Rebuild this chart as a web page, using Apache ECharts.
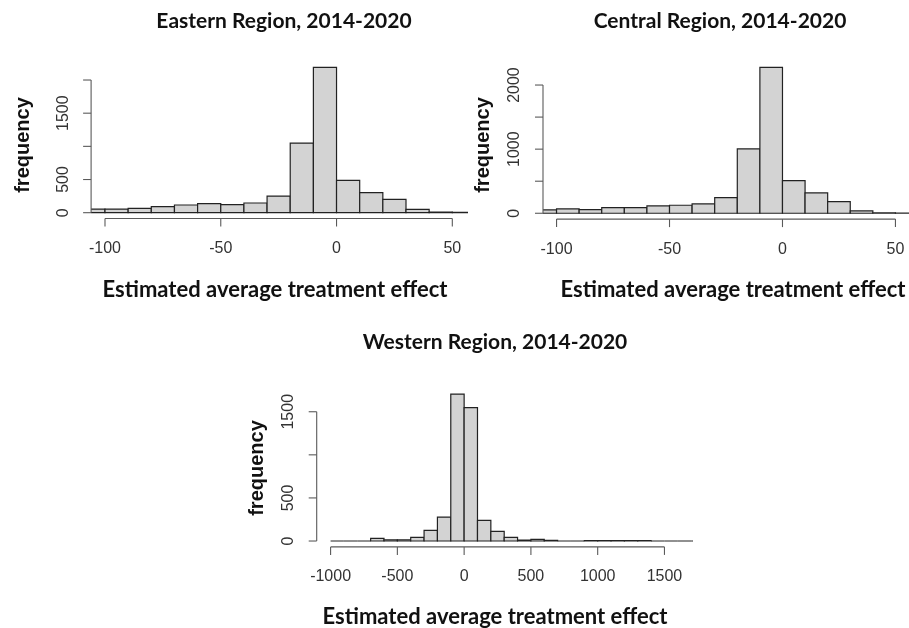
<!DOCTYPE html>
<html>
<head>
<meta charset="utf-8">
<script src="https://cdn.jsdelivr.net/npm/echarts@6/dist/echarts.min.js"></script>
<style>
html,body{margin:0;padding:0;background:#fff;}
#chart{width:909px;height:628px;}
</style>
</head>
<body>
<div id="chart"></div>
<script>
// ---------- data ----------
const eastBreaks = [-110,-100,-90,-80,-70,-60,-50,-40,-30,-20,-10,0,10,20,30,40,50,60];
const eastCounts = [55,55,65,90,116,136,121,146,251,1050,2190,487,301,201,50,10,4];

const centralBreaks = [-110,-100,-90,-80,-70,-60,-50,-40,-30,-20,-10,0,10,20,30,40,50,60];
const centralCounts = [52,68,57,88,88,114,125,145,244,1003,2276,509,317,182,36,8,2];

const westBreaks = [-1000,-900,-800,-700,-600,-500,-400,-300,-200,-100,0,100,200,300,400,500,600,700,800,900,1000,1100,1200,1300,1400,1500,1600,1700,1800];
const westCounts = [0,0,0,31,15,15,43,124,278,1705,1547,240,112,43,12,19,8,0,0,5,5,5,5,5,0,0,0,0];

const eastXTicks = [-100,-50,0,50];
const centralXTicks = [-100,-50,0,50];
const westXTicks = [-1000,-500,0,500,1000,1500];

const eastYTicks = [0,500,1000,1500,2000];
const eastYLabels = [0,500,1500];
const centralYTicks = [0,500,1000,1500,2000];
const centralYLabels = [0,1000,2000];
const westYTicks = [0,500,1000,1500];
const westYLabels = [0,500,1500];

const titles = ['Eastern Region, 2014-2020','Central Region, 2014-2020','Western Region, 2014-2020'];
const xName = 'Estimated average treatment effect';
const yName = 'frequency';

// ---------- helpers ----------
const AXIS_COLOR = '#5a5a5a';
const LABEL_COLOR = '#333';
const TICK_FONT = 'Liberation Sans';
const TITLE_FONT = 'Lato';
const TICK_LEN = 8;

function binData(breaks, counts){
  return counts.map((c,i)=>[breaks[i], breaks[i+1], c]);
}
function histSeries(idx, breaks, counts){
  return {
    type:'custom', xAxisIndex:idx, yAxisIndex:idx, clip:true, silent:true,
    encode:{x:[0,1], y:2},
    data: binData(breaks, counts),
    renderItem:function(params, api){
      const p0 = api.coord([api.value(0), 0]);
      const p1 = api.coord([api.value(1), api.value(2)]);
      return {
        type:'rect',
        shape:{x:p0[0], y:p1[1], width:p1[0]-p0[0], height:p0[1]-p1[1]},
        style:{fill:'#d3d3d3', stroke:'#222', lineWidth:1.2}
      };
    }
  };
}
// R-style axes: lines span only from first to last tick
function frameSeries(idx, xt, yt, xmin, ymin){
  return {
    type:'custom', xAxisIndex:idx, yAxisIndex:idx, clip:false, silent:true,
    encode:{x:[], y:[]},
    data:[[xmin, ymin]],
    renderItem:function(params, api){
      const x0 = api.value(0), y0 = api.value(1);
      const st = {stroke:AXIS_COLOR, lineWidth:1.1};
      const kids = [];
      const a = api.coord([xt[0], y0]), b = api.coord([xt[xt.length-1], y0]);
      kids.push({type:'line', shape:{x1:a[0], y1:a[1], x2:b[0], y2:b[1]}, style:st});
      xt.forEach(v=>{ const p = api.coord([v, y0]);
        kids.push({type:'line', shape:{x1:p[0], y1:p[1], x2:p[0], y2:p[1]+TICK_LEN}, style:st}); });
      const c = api.coord([x0, yt[0]]), d = api.coord([x0, yt[yt.length-1]]);
      kids.push({type:'line', shape:{x1:c[0], y1:c[1], x2:d[0], y2:d[1]}, style:st});
      yt.forEach(v=>{ const p = api.coord([x0, v]);
        kids.push({type:'line', shape:{x1:p[0], y1:p[1], x2:p[0]-TICK_LEN, y2:p[1]}, style:st}); });
      return {type:'group', children:kids};
    }
  };
}
function xAxisDef(idx, min, max, ticks){
  return {
    gridIndex:idx, type:'value', min:min, max:max,
    axisLine:{show:false}, splitLine:{show:false}, axisTick:{show:false},
    axisLabel:{customValues:ticks, margin:22, fontSize:16, color:LABEL_COLOR, fontFamily:TICK_FONT,
      formatter:v=>String(v)}
  };
}
function yAxisDef(idx, counts, labels){
  const m = Math.max.apply(null, counts);
  return {
    gridIndex:idx, type:'value', min:-0.04*m, max:1.04*m,
    axisLine:{show:false}, splitLine:{show:false}, axisTick:{show:false},
    axisLabel:{customValues:labels, rotate:90, margin:20, fontSize:16, color:LABEL_COLOR, fontFamily:TICK_FONT,
      formatter:v=>String(v)}
  };
}
function titleDef(text, x, y, size){
  return {text:text, left:x, top:y, textAlign:'center', padding:0,
    textStyle:{fontFamily:TITLE_FONT, fontWeight:'bold', fontSize:size, color:'#111'}};
}
function yNameDef(x, y){
  return {type:'text', x:x, y:y, rotation:Math.PI/2,
    style:{text:yName, font:'bold 20px "Liberation Sans"', fill:'#111', align:'center', verticalAlign:'middle'}};
}
const minOf = c => -0.04*Math.max.apply(null, c);

const option = {
  animation:false,
  backgroundColor:'#fff',
  title:[
    titleDef(titles[0], 284, 11, 21),
    titleDef(titles[1], 720, 11, 21),
    titleDef(titles[2], 495, 332, 21),
    titleDef(xName, 275, 279, 22),
    titleDef(xName, 733, 279, 22),
    titleDef(xName, 495, 606, 22)
  ],
  graphic:[ yNameDef(23,145), yNameDef(483,145), yNameDef(257,468) ],
  grid:[
    {left:91.1, top:61.6, width:375.1, height:156.9},
    {left:543, top:61.5, width:370.7, height:157.6},
    {left:316.7, top:388.2, width:375, height:158.7}
  ],
  xAxis:[
    xAxisDef(0, -106, 56, eastXTicks),
    xAxisDef(1, -106, 56, centralXTicks),
    xAxisDef(2, -1104, 1704, westXTicks)
  ],
  yAxis:[
    yAxisDef(0, eastCounts, eastYLabels),
    yAxisDef(1, centralCounts, centralYLabels),
    yAxisDef(2, westCounts, westYLabels)
  ],
  series:[
    histSeries(0, eastBreaks, eastCounts),
    histSeries(1, centralBreaks, centralCounts),
    histSeries(2, westBreaks, westCounts),
    frameSeries(0, eastXTicks, eastYTicks, -106, minOf(eastCounts)),
    frameSeries(1, centralXTicks, centralYTicks, -106, minOf(centralCounts)),
    frameSeries(2, westXTicks, westYTicks, -1104, minOf(westCounts))
  ]
};
const chart = echarts.init(document.getElementById('chart'));
chart.setOption(option);
</script>
</body>
</html>
